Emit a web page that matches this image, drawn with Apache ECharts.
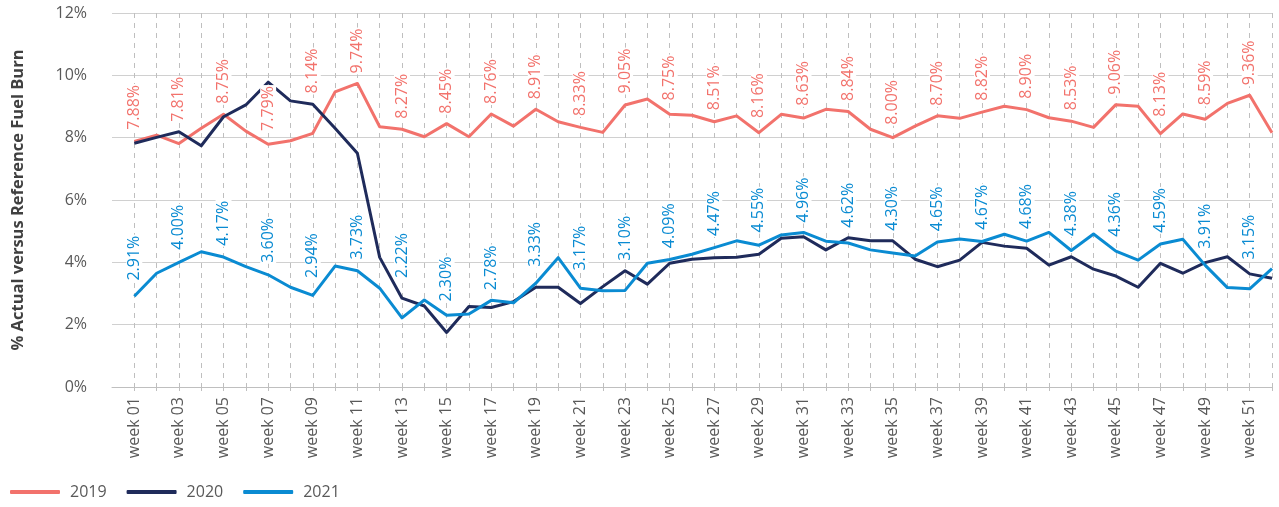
<!DOCTYPE html>
<html>
<head>
<meta charset="utf-8">
<script src="https://cdn.jsdelivr.net/npm/echarts@6/dist/echarts.min.js"></script>
<style>
  html, body { margin: 0; padding: 0; background: #ffffff; }
  #chart { width: 1279px; height: 507px; }
</style>
</head>
<body>
<div id="chart"></div>
<script>
// Week categories along the x axis
const weeks = [
  'week 01','week 02','week 03','week 04','week 05','week 06','week 07','week 08','week 09','week 10',
  'week 11','week 12','week 13','week 14','week 15','week 16','week 17','week 18','week 19','week 20',
  'week 21','week 22','week 23','week 24','week 25','week 26','week 27','week 28','week 29','week 30',
  'week 31','week 32','week 33','week 34','week 35','week 36','week 37','week 38','week 39','week 40',
  'week 41','week 42','week 43','week 44','week 45','week 46','week 47','week 48','week 49','week 50',
  'week 51','week 52'
];

// % actual versus reference fuel burn, per week
const fuel2019 = [7.88, 8.08, 7.81, 8.30, 8.75, 8.21, 7.79, 7.90, 8.14, 9.47,
                  9.74, 8.35, 8.27, 8.03, 8.45, 8.03, 8.76, 8.37, 8.91, 8.51,
                  8.33, 8.17, 9.05, 9.24, 8.75, 8.72, 8.51, 8.70, 8.16, 8.75,
                  8.63, 8.91, 8.84, 8.27, 8.00, 8.37, 8.70, 8.62, 8.82, 9.01,
                  8.90, 8.64, 8.53, 8.33, 9.06, 9.01, 8.13, 8.76, 8.59, 9.10,
                  9.36, 8.16];
const fuel2020 = [7.82, 8.01, 8.19, 7.74, 8.67, 9.05, 9.78, 9.18, 9.07, 8.30,
                  7.50, 4.16, 2.85, 2.60, 1.75, 2.58, 2.55, 2.74, 3.20, 3.20,
                  2.68, 3.22, 3.73, 3.30, 3.97, 4.10, 4.15, 4.16, 4.26, 4.77,
                  4.82, 4.40, 4.79, 4.69, 4.69, 4.10, 3.86, 4.07, 4.64, 4.52,
                  4.45, 3.91, 4.18, 3.78, 3.56, 3.20, 3.97, 3.65, 3.99, 4.18,
                  3.63, 3.49];
const fuel2021 = [2.91, 3.65, 4.00, 4.34, 4.17, 3.86, 3.60, 3.20, 2.94, 3.88,
                  3.73, 3.17, 2.22, 2.79, 2.30, 2.34, 2.78, 2.70, 3.33, 4.15,
                  3.17, 3.09, 3.10, 3.97, 4.09, 4.26, 4.47, 4.69, 4.55, 4.88,
                  4.96, 4.68, 4.62, 4.40, 4.30, 4.20, 4.65, 4.75, 4.67, 4.90,
                  4.68, 4.96, 4.38, 4.91, 4.36, 4.07, 4.59, 4.74, 3.91, 3.19,
                  3.15, 3.80];

const seriesNames = ['2019', '2020', '2021'];
const seriesValues = [fuel2019, fuel2020, fuel2021];
const seriesColors = ['#F2726C', '#1F2B5B', '#0A8BD2'];
const labelledSeries = [true, false, true];

const FONT = '"Open Sans", "Noto Sans", "DejaVu Sans", sans-serif';
const LABEL_GAP = 9;      // px between a label and the line below it
const LABEL_LENGTH = 45;  // approx. px length of a rotated "0.00%" label

// An empty leading slot leaves a one-week margin before week 01
const categories = [''].concat(weeks);

// Value of a series polyline at a fractional week index
function valueAt(values, t) {
  if (t <= 0) return values[0];
  if (t >= values.length - 1) return values[values.length - 1];
  const a = Math.floor(t), f = t - a;
  return values[a] + (values[a + 1] - values[a]) * f;
}

// Data items for a series; labelled weeks lift their label above any
// line that would otherwise run through it.
function seriesData(idx, pxPerUnit) {
  const own = seriesValues[idx];
  const items = [null];
  own.forEach(function (v, k) {
    const item = { value: v };
    if (labelledSeries[idx] && k % 2 === 0 && pxPerUnit) {
      const span = (LABEL_GAP + LABEL_LENGTH) / pxPerUnit;
      let top = v;
      seriesValues.forEach(function (vals, s) {
        [-0.25, 0, 0.25].forEach(function (dt) {
          if (s === idx && dt === 0) return;
          const w = valueAt(vals, k + dt);
          if (w > top && w <= v + span) top = w;
        });
      });
      item.label = { distance: LABEL_GAP + (top - v) * pxPerUnit };
    }
    items.push(item);
  });
  return items;
}

function lineSeries(idx, pxPerUnit) {
  const color = seriesColors[idx];
  return {
    name: seriesNames[idx],
    type: 'line',
    data: seriesData(idx, pxPerUnit),
    symbol: 'circle',
    symbolSize: 0,
    showSymbol: true,
    lineStyle: { color: color, width: 3, join: 'round' },
    itemStyle: { color: color },
    emphasis: { disabled: true },
    label: labelledSeries[idx] ? {
      show: true,
      position: 'top',
      rotate: 90,
      align: 'left',
      verticalAlign: 'middle',
      distance: LABEL_GAP,
      color: color,
      fontFamily: FONT,
      fontSize: 16,
      backgroundColor: '#ffffff',
      padding: [0, 1, 0, 1],
      formatter: function (p) {
        return p.dataIndex % 2 === 1 ? p.value.toFixed(2) + '%' : '';
      }
    } : { show: false }
  };
}

const chart = echarts.init(document.getElementById('chart'), null, { renderer: 'canvas' });

chart.setOption({
  animation: false,
  backgroundColor: '#ffffff',
  textStyle: { fontFamily: FONT },
  grid: { left: 112, right: 7, top: 13, bottom: 120, containLabel: false },
  legend: {
    data: seriesNames,
    left: 10,
    top: 484,
    padding: 0,
    icon: 'roundRect',
    itemWidth: 50,
    itemHeight: 4,
    itemGap: 20,
    textStyle: { color: '#595959', fontSize: 16, fontFamily: FONT, padding: [0, 0, 0, 5] }
  },
  xAxis: {
    type: 'category',
    data: categories,
    boundaryGap: false,
    axisLine: { show: true, lineStyle: { color: '#bfbfbf', width: 1 } },
    axisTick: {
      show: true,
      length: 4,
      interval: function (i) { return i > 0; },
      lineStyle: { color: '#bfbfbf' }
    },
    axisLabel: {
      rotate: 90,
      margin: 10,
      color: '#595959',
      fontSize: 16,
      fontFamily: FONT,
      interval: function (i) { return i % 2 === 1; }
    },
    splitLine: {
      show: true,
      interval: function (i) { return i > 0; },
      lineStyle: { color: '#bfbfbf', type: [5, 5], width: 1 }
    }
  },
  yAxis: {
    type: 'value',
    min: 0,
    max: 12,
    interval: 2,
    name: '% Actual versus Reference Fuel Burn',
    nameLocation: 'middle',
    nameGap: 85,
    nameTextStyle: { color: '#404040', fontSize: 16.5, fontWeight: 'bold', fontFamily: FONT },
    axisLine: { show: false },
    axisTick: { show: false },
    axisLabel: {
      formatter: '{value}%',
      color: '#595959',
      fontSize: 16,
      fontFamily: FONT,
      margin: 25
    },
    splitLine: { show: true, lineStyle: { color: '#d0d0d0', width: 1 } }
  },
  series: [0, 1, 2].map(function (i) { return lineSeries(i, 0); })
});

// Second pass: now that the y scale is laid out, place the labels clear of the lines
const pxPerUnit = chart.convertToPixel({ yAxisIndex: 0 }, 0) - chart.convertToPixel({ yAxisIndex: 0 }, 1);
chart.setOption({
  series: [0, 1, 2].map(function (i) { return { data: seriesData(i, pxPerUnit) }; })
});
</script>
</body>
</html>
